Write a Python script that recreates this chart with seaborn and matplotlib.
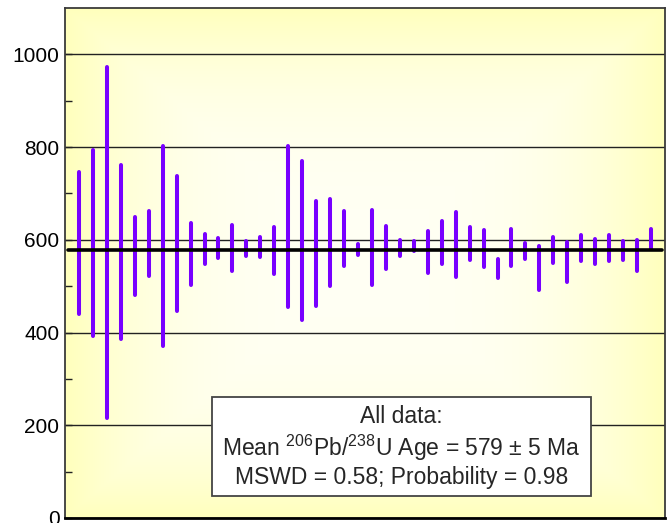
import numpy as np
import pandas as pd
import matplotlib
matplotlib.use("Agg")
import matplotlib.pyplot as plt
from matplotlib.patches import Rectangle
import seaborn as sns

sns.set_style("white")
plt.rcParams["font.family"] = ["Liberation Sans", "DejaVu Sans"]
plt.rcParams["mathtext.fontset"] = "custom"
plt.rcParams["mathtext.rm"] = "Liberation Sans"
plt.rcParams["mathtext.default"] = "regular"

# 206Pb/238U ages (Ma) and 2s errors, one per grain
ages = np.array([594, 593, 594, 574, 566, 593, 587, 592, 569, 580, 582, 583, 581, 584,
                 577, 628, 598, 570, 595, 603, 579, 584, 583, 582, 586, 574, 594, 590,
                 592, 582, 538, 584, 576, 539, 579, 553, 583, 575, 582, 577, 566, 602])
errs = np.array([153, 200, 378, 188, 84, 70, 215, 146, 67, 33, 22, 50, 16, 22,
                 50, 174, 171, 113, 94, 60, 11, 81, 46, 17, 11, 45, 47, 70,
                 35, 40, 20, 40, 17, 47, 28, 43, 28, 27, 28, 21, 33, 22])
mean_age = 579
mean_err = 5
mswd = 0.58
prob = 0.98

grain = np.arange(1, len(ages) + 1)
df = pd.DataFrame({
    "grain": np.repeat(grain, 2),
    "age": np.column_stack([ages - errs, ages + errs]).ravel(),
})

fig = plt.figure(figsize=(6.7, 5.23), dpi=100)
ax = fig.add_axes([0.097, 0.0096, 0.8955, 0.9751])

# yellow gradient background
xx, yy = np.meshgrid(np.linspace(-1, 1, 300), np.linspace(-1, 1, 300))
t = np.maximum(np.abs(xx), np.abs(yy)) ** 3
c0 = np.array([1.0, 1.0, 0.955])
c1 = np.array([1.0, 1.0, 0.74])
img = c0[None, None, :] * (1 - t[..., None]) + c1[None, None, :] * t[..., None]
ax.imshow(img, extent=[0, 1, 0, 1], transform=ax.transAxes, aspect="auto", zorder=0)

sns.lineplot(data=df, x="grain", y="age", units="grain", estimator=None,
             color="#7800FF", lw=2.9, solid_capstyle="round", legend=False,
             ax=ax, zorder=3)
ax.plot([0.2, len(ages) + 0.8], [mean_age, mean_age], color="black", lw=2.6,
        solid_capstyle="round", zorder=4)

ax.set_xlim(0, len(ages) + 1)
ax.set_ylim(0, 1100)
ax.set_xticks([])
ax.set_yticks(range(0, 1001, 200))
ax.set_yticks(range(100, 1001, 200), minor=True)
ax.set_xlabel("")
ax.set_ylabel("")
ax.yaxis.grid(True, color="#222222", lw=1.0)
ax.set_axisbelow(True)
ax.tick_params(axis="y", which="both", direction="in", left=True, length=5,
               width=1, labelsize=15, pad=4, colors="#222222", labelcolor="black")
for s in ax.spines.values():
    s.set_color("#3a3a3a")
    s.set_linewidth(1.3)
ax.spines["bottom"].set_color("black")
ax.spines["bottom"].set_linewidth(2)

ax.add_patch(Rectangle((0.2445, 0.0437), 0.632, 0.194, transform=ax.transAxes,
                       facecolor="white", edgecolor="#444444", lw=1.3, zorder=5))
ax.text(0.5605, 0.139,
        "All data:\nMean $^{206}$Pb/$^{238}$U Age = %d ± %d Ma\nMSWD = %.2f; Probability = %.2f"
        % (mean_age, mean_err, mswd, prob),
        transform=ax.transAxes, ha="center", va="center", multialignment="center",
        fontsize=16.5, linespacing=1.18, zorder=6)

fig.savefig("out.png", dpi=100)
